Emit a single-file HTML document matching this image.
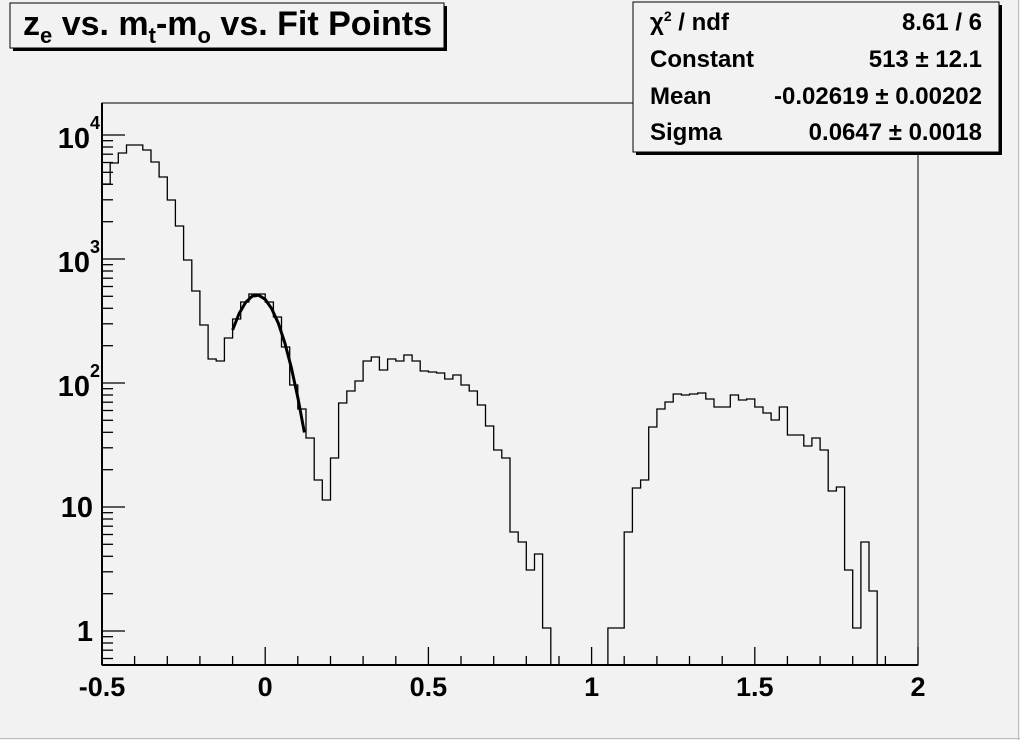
<!DOCTYPE html>
<html><head><style>
body{margin:0;background:#f2f2f2;}
svg{display:block;font-family:"Liberation Sans",Arial,sans-serif;font-weight:bold;}
</style></head><body>
<svg width="1020" height="740" viewBox="0 0 1020 740" xmlns="http://www.w3.org/2000/svg">
<rect x="0" y="0" width="1020" height="740" fill="#f2f2f2"/>
<line x1="1018.5" y1="0" x2="1018.5" y2="740" stroke="#bbb"/>
<line x1="0" y1="738.5" x2="1020" y2="738.5" stroke="#bbb"/>
<rect x="102" y="103" width="816" height="562" fill="none" stroke="#000" stroke-width="1"/>
<line x1="102" y1="665" x2="918" y2="665" stroke="#000" stroke-width="2"/>
<line x1="102" y1="103" x2="102" y2="665" stroke="#000" stroke-width="2"/>
<g stroke="#000" stroke-width="1.3">
<line x1="102" y1="665" x2="102" y2="647"/><line x1="265.2" y1="665" x2="265.2" y2="647"/><line x1="428.4" y1="665" x2="428.4" y2="647"/><line x1="591.6" y1="665" x2="591.6" y2="647"/><line x1="754.8" y1="665" x2="754.8" y2="647"/><line x1="918" y1="665" x2="918" y2="647"/>
<line x1="134.6" y1="665" x2="134.6" y2="656"/><line x1="167.3" y1="665" x2="167.3" y2="656"/><line x1="199.9" y1="665" x2="199.9" y2="656"/><line x1="232.6" y1="665" x2="232.6" y2="656"/>
<line x1="297.8" y1="665" x2="297.8" y2="656"/><line x1="330.5" y1="665" x2="330.5" y2="656"/><line x1="363.1" y1="665" x2="363.1" y2="656"/><line x1="395.8" y1="665" x2="395.8" y2="656"/>
<line x1="461" y1="665" x2="461" y2="656"/><line x1="493.7" y1="665" x2="493.7" y2="656"/><line x1="526.3" y1="665" x2="526.3" y2="656"/><line x1="559" y1="665" x2="559" y2="656"/>
<line x1="624.2" y1="665" x2="624.2" y2="656"/><line x1="656.9" y1="665" x2="656.9" y2="656"/><line x1="689.5" y1="665" x2="689.5" y2="656"/><line x1="722.2" y1="665" x2="722.2" y2="656"/>
<line x1="787.4" y1="665" x2="787.4" y2="656"/><line x1="820.1" y1="665" x2="820.1" y2="656"/><line x1="852.7" y1="665" x2="852.7" y2="656"/><line x1="885.4" y1="665" x2="885.4" y2="656"/>
</g>
<g stroke="#000" stroke-width="1.3">
<line x1="102" y1="631" x2="125" y2="631"/><line x1="102" y1="507" x2="125" y2="507"/><line x1="102" y1="383" x2="125" y2="383"/><line x1="102" y1="259" x2="125" y2="259"/><line x1="102" y1="135" x2="125" y2="135"/>
<line x1="102" y1="636.7" x2="113" y2="636.7"/><line x1="102" y1="643" x2="113" y2="643"/><line x1="102" y1="650.2" x2="113" y2="650.2"/><line x1="102" y1="658.5" x2="113" y2="658.5"/>
<line x1="102" y1="593.7" x2="113" y2="593.7"/><line x1="102" y1="571.8" x2="113" y2="571.8"/><line x1="102" y1="556.3" x2="113" y2="556.3"/><line x1="102" y1="544.3" x2="113" y2="544.3"/><line x1="102" y1="534.5" x2="113" y2="534.5"/><line x1="102" y1="526.2" x2="113" y2="526.2"/><line x1="102" y1="519" x2="113" y2="519"/><line x1="102" y1="512.7" x2="113" y2="512.7"/>
<line x1="102" y1="469.7" x2="113" y2="469.7"/><line x1="102" y1="447.8" x2="113" y2="447.8"/><line x1="102" y1="432.3" x2="113" y2="432.3"/><line x1="102" y1="420.3" x2="113" y2="420.3"/><line x1="102" y1="410.5" x2="113" y2="410.5"/><line x1="102" y1="402.2" x2="113" y2="402.2"/><line x1="102" y1="395" x2="113" y2="395"/><line x1="102" y1="388.7" x2="113" y2="388.7"/>
<line x1="102" y1="345.7" x2="113" y2="345.7"/><line x1="102" y1="323.8" x2="113" y2="323.8"/><line x1="102" y1="308.3" x2="113" y2="308.3"/><line x1="102" y1="296.3" x2="113" y2="296.3"/><line x1="102" y1="286.5" x2="113" y2="286.5"/><line x1="102" y1="278.2" x2="113" y2="278.2"/><line x1="102" y1="271" x2="113" y2="271"/><line x1="102" y1="264.7" x2="113" y2="264.7"/>
<line x1="102" y1="221.7" x2="113" y2="221.7"/><line x1="102" y1="199.8" x2="113" y2="199.8"/><line x1="102" y1="184.3" x2="113" y2="184.3"/><line x1="102" y1="172.3" x2="113" y2="172.3"/><line x1="102" y1="162.5" x2="113" y2="162.5"/><line x1="102" y1="154.2" x2="113" y2="154.2"/><line x1="102" y1="147" x2="113" y2="147"/><line x1="102" y1="140.7" x2="113" y2="140.7"/>
</g>
<path fill="none" stroke="#000" stroke-width="1.3" d="M102,184 H110.2 V163 H118.3 V153 H126.5 V145 H142.8 V150 H151 V162 H159.1 V177 H167.3 V200 H175.4 V226 H183.6 V260 H191.8 V291 H199.9 V325 H208.1 V359 H216.2 V361 H224.4 V338 H232.6 V319 H240.7 V302 H248.9 V294 H265.2 V302 H273.4 V317 H281.5 V347 H289.7 V385 H297.8 V409 H306 V438 H314.2 V480 H322.3 V500 H330.5 V458 H338.6 V403 H346.8 V391 H355 V381 H363.1 V361 H371.3 V357 H379.4 V370 H387.6 V359 H395.8 V361 H403.9 V355 H412.1 V361 H420.2 V371 H428.4 V372 H436.6 V373 H444.7 V379 H452.9 V375 H461 V385 H469.2 V391 H477.4 V405 H485.5 V426 H493.7 V450 H501.8 V458 H510 V532 H518.2 V542 H526.3 V570 H534.5 V554 H542.6 V628 H550.8 V665 M607.9,665 V628 H624.2 V532 H632.4 V488 H640.6 V480 H648.7 V427 H656.9 V409 H665 V402 H673.2 V394 H681.4 V395 H689.5 V394 H697.7 V393 H705.8 V399 H714 V407 H730.3 V395 H738.5 V400 H746.6 V399 H754.8 V407 H763 V413 H771.1 V420 H779.3 V407 H787.4 V435 H803.8 V446 H811.9 V438 H820.1 V450 H828.2 V491 H836.4 V487 H844.6 V570 H852.7 V628 H860.9 V542 H869 V591 H877.2 V665"/>
<polyline fill="none" stroke="#000" stroke-width="3" points="232.6,330 239.1,313.6 245.6,302.4 252.2,296.2 258.7,295.2 265.2,299.4 271.7,308.7 278.3,323.2 284.8,342.8 291.3,367.5 297.8,397.4 304.4,432.5"/>
<g font-size="27" text-anchor="middle" fill="#000">
<text x="102" y="696">-0.5</text><text x="265.2" y="696">0</text><text x="428.4" y="696">0.5</text><text x="591.6" y="696">1</text><text x="754.8" y="696">1.5</text><text x="918" y="696">2</text>
</g>
<g font-size="29" text-anchor="end" fill="#000">
<text x="93" y="641">1</text><text x="93" y="517">10</text>
<text x="90" y="396">10</text><text x="90" y="377" font-size="18" text-anchor="start">2</text>
<text x="90" y="272">10</text><text x="90" y="253" font-size="18" text-anchor="start">3</text>
<text x="90" y="148">10</text><text x="90" y="129" font-size="18" text-anchor="start">4</text>
</g>
<rect x="13" y="6" width="434" height="45" fill="#000"/>
<rect x="10" y="3" width="434" height="45" fill="#f2f2f2" stroke="#000" stroke-width="1"/>
<text x="23" y="35" font-size="34" fill="#000">z<tspan font-size="22" dy="8">e</tspan><tspan dy="-8"> vs. m</tspan><tspan font-size="22" dy="8">t</tspan><tspan dy="-8">-m</tspan><tspan font-size="22" dy="8">o</tspan><tspan dy="-8"> vs. Fit Points</tspan></text>
<rect x="636" y="5" width="366" height="150" fill="#000"/>
<rect x="633" y="2" width="366" height="150" fill="#f2f2f2" stroke="#000" stroke-width="1"/>
<g font-size="24" fill="#000">
<text x="650" y="30">χ<tspan font-size="14" dy="-9">2</tspan><tspan dy="9"> / ndf</tspan></text>
<text x="650" y="67">Constant</text>
<text x="650" y="104">Mean</text>
<text x="650" y="140">Sigma</text>
</g>
<g font-size="24" fill="#000" text-anchor="end">
<text x="982" y="30">8.61 / 6</text>
<text x="982" y="67">513 ± 12.1</text>
<text x="982" y="104">-0.02619 ± 0.00202</text>
<text x="982" y="140">0.0647 ± 0.0018</text>
</g>
</svg>
</body></html>
